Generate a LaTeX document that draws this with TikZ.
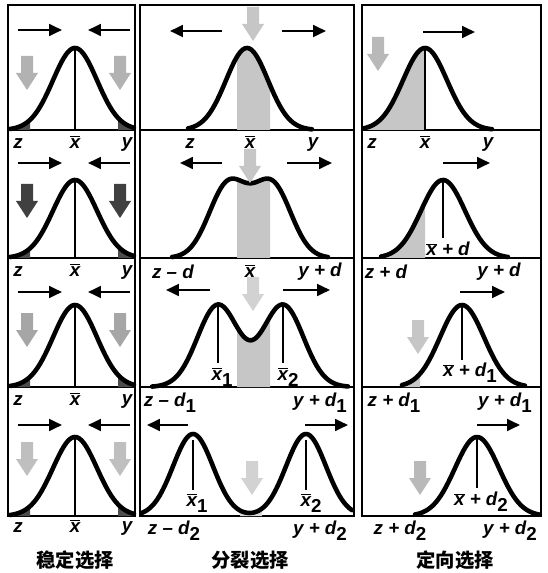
\documentclass[tikz,border=0pt]{standalone}
\usepackage{fontspec}
\setmainfont{Liberation Sans}
\newfontfamily\cjk{Noto Sans CJK SC}
\usetikzlibrary{arrows.meta}

\newcommand\xm{$\overline{\mbox{\bfseries\itshape x}}$}
\newcommand\lowsub[1]{\raisebox{-0.6ex}{\upshape #1}}

\tikzset{
  frame/.style={line width=1.3pt},
  bell/.style={line width=3.9pt, line cap=round, line join=round},
  meanline/.style={line width=0.9pt},
  drift/.style={line width=2.1pt, -{Triangle[length=11pt,width=10pt]}},
  tailfill/.style={fill=black!70},
  band/.style={fill=gray!45},
  lab/.style={font=\fontsize{16}{18}\selectfont\bfseries\itshape, inner sep=0pt},
  title/.style={font=\fontsize{16.5}{18}\selectfont\cjk\bfseries, inner sep=0pt},
  pics/push/.style={code={
    \fill[#1] (-6,-17) -- (6,-17) -- (6,0) -- (11,0) -- (0,17) -- (-11,0) -- (-6,0) -- cycle;}}
}

\begin{document}
\begin{tikzpicture}[x=0.03cm,y=-0.03cm,
  declare function={g(\t,\m,\s)=exp(-((\t-\m)/\s)^2/2);}]
\useasboundingbox (0,0) rectangle (547,573);

\draw[frame] (8,5) rectangle (135,516);
\draw[frame] (140,5) rectangle (354,516);
\draw[frame] (362,5) rectangle (541,516);
\foreach \b in {130,258,387} {
  \draw[frame] (8,\b) -- (135,\b);
  \draw[frame] (140,\b) -- (354,\b);
  \draw[frame] (362,\b) -- (541,\b);
}

% stabilizing
\foreach \b/\h/\p/\c [count=\i] in {130/82/30/gray!60, 258/78/163/black!75, 387/82/292/gray!70, 516/79/425/gray!50} {
  \fill[tailfill] (10,\b) -- plot[domain=10:30,samples=20] (\x,{\b-\h*g(\x,75,22)}) -- (30,\b) -- cycle;
  \fill[tailfill] (118,\b) -- plot[domain=118:134,samples=20] (\x,{\b-\h*g(\x,75,22)}) -- (134,\b) -- cycle;
  \draw[meanline] (75,\b-\h) -- (75,\b);
  \draw[bell] plot[domain=10:134,samples=80] (\x,{\b-\h*g(\x,75,22)});
  \draw[drift] (18,\p) -- (62,\p);
  \draw[drift] (130,\p) -- (88,\p);
  \pic at (27,\b-57) {push=\c};
  \pic at (120,\b-57) {push=\c};
}
\foreach \b [count=\i] in {130,258,387,514} {
  \node[lab] (lz\i) at (18,\b+14) {z};
  \node[lab] (lx\i) at (75,\b+12) {\xm};
  \node[lab] (ly\i) at (127,\b+14) {y};
}

% disruptive
\fill[band] (237,130) -- plot[domain=237:270,samples=20] (\x,{130-82*g(\x,247,21)}) -- (270,130) -- cycle;
\draw[bell] plot[domain=188:312,samples=80] (\x,{130-82*g(\x,247,21)});
\draw[drift] (222,31) -- (170,31);
\draw[drift] (282,31) -- (326,31);
\pic at (253,24) {push=gray!45};
\node[lab] (mz1) at (190,144) {z};
\node[lab] (mx1) at (250,142) {\xm};
\node[lab] (my1) at (313,144) {y};

\fill[band] (237,258) -- plot[domain=237:270,samples=20] (\x,{258-73*(g(\x,228,19)+g(\x,272,19))}) -- (270,258) -- cycle;
\draw[bell] plot[domain=172:328,samples=100] (\x,{258-73*(g(\x,228,19)+g(\x,272,19))});
\draw[drift] (222,163) -- (180,163);
\draw[drift] (287,163) -- (332,163);
\pic at (250,166) {push=gray!45};
\node[lab] (mz2) at (173,272) {z -- d};
\node[lab] (mx2) at (250,271) {\xm};
\node[lab] (my2) at (320,272) {y + d};

\fill[band] (237,387) -- plot[domain=237:270,samples=20] (\x,{387-82*(g(\x,218,20.5)+g(\x,283,20.5))}) -- (270,387) -- cycle;
\draw[meanline] (218,305) -- (218,363);
\draw[meanline] (283,305) -- (283,363);
\draw[bell] plot[domain=152:348,samples=120] (\x,{387-82*(g(\x,218,20.5)+g(\x,283,20.5))});
\draw[drift] (210,290) -- (166,290);
\draw[drift] (283,290) -- (330,290);
\pic at (253,294) {push=gray!35};
\node[lab] (mx31) at (222,377) {\xm\lowsub{1}};
\node[lab] (mx32) at (288,377) {\xm\lowsub{2}};
\node[lab] (mz3) at (170,403) {z -- d\lowsub{1}};
\node[lab] (my3) at (320,403) {y + d\lowsub{1}};

\fill[gray!30] (240,516) -- plot[domain=240:262,samples=20] (\x,{516-82*(g(\x,193,20)+g(\x,306,20))}) -- (262,516) -- cycle;
\draw[meanline] (193,440) -- (193,490);
\draw[meanline] (306,440) -- (306,490);
\draw[bell] plot[domain=142:352,samples=140] (\x,{516-82*(g(\x,193,20)+g(\x,306,20))});
\draw[drift] (188,425) -- (147,425);
\draw[drift] (305,425) -- (348,425);
\pic at (252,478) {push=gray!35};
\node[lab] (mx41) at (197,503) {\xm\lowsub{1}};
\node[lab] (mx42) at (311,503) {\xm\lowsub{2}};
\node[lab] (mz4) at (174,531) {z -- d\lowsub{2}};
\node[lab] (my4) at (320,531) {y + d\lowsub{2}};

% directional
\fill[band] (364,130) -- plot[domain=364:425,samples=30] (\x,{130-82*g(\x,425,22)}) -- (425,130) -- cycle;
\draw[meanline] (425,48) -- (425,130);
\draw[bell] plot[domain=364:492,samples=80] (\x,{130-82*g(\x,425,22)});
\draw[drift] (423,32) -- (475,32);
\pic at (378,54) {push=gray!55};
\node[lab] (rz1) at (372,144) {z};
\node[lab] (rx1) at (425,142) {\xm};
\node[lab] (ry1) at (488,144) {y};

\fill[band] (381,258) -- plot[domain=381:425,samples=30] (\x,{258-78*g(\x,443,22)}) -- (425,258) -- cycle;
\draw[meanline] (443,180) -- (443,238);
\draw[bell] plot[domain=381:508,samples=80] (\x,{258-78*g(\x,443,22)});
\draw[drift] (443,163) -- (490,163);
\node[lab] (rx2) at (448,249) {\xm\ + d};
\node[lab] (rz2) at (386,272) {z + d};
\node[lab] (ry2) at (499,272) {y + d};

\fill[band] (402,387) -- plot[domain=402:420,samples=20] (\x,{387-82*g(\x,462,22)}) -- (420,387) -- cycle;
\draw[meanline] (462,305) -- (462,360);
\draw[bell] plot[domain=402:525,samples=80] (\x,{387-82*g(\x,462,22)});
\draw[drift] (460,292) -- (505,292);
\pic at (418,337) {push=gray!45};
\node[lab] (rx3) at (470,373) {\xm\ + d\lowsub{1}};
\node[lab] (rz3) at (394,403) {z + d\lowsub{1}};
\node[lab] (ry3) at (505,403) {y + d\lowsub{1}};

\draw[meanline] (477,437) -- (477,488);
\draw[bell] plot[domain=415:539,samples=80] (\x,{516-79*g(\x,477,22)});
\draw[drift] (477,425) -- (520,425);
\pic at (420,478) {push=gray!55};
\node[lab] (rx4) at (481,502) {\xm\ + d\lowsub{2}};
\node[lab] (rz4) at (400,531) {z + d\lowsub{2}};
\node[lab] (ry4) at (510,531) {y + d\lowsub{2}};

\node[title] (t1) at (75,560) {稳定选择};
\node[title] (t2) at (250,560) {分裂选择};
\node[title] (t3) at (455,560) {定向选择};
\end{tikzpicture}
\end{document}
